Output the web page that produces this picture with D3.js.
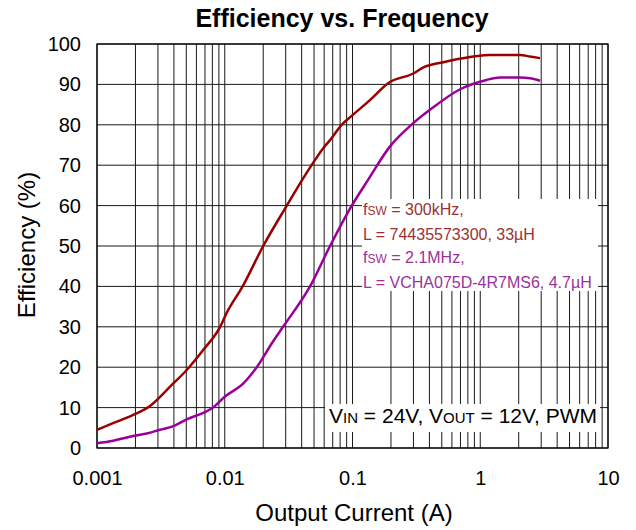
<!DOCTYPE html>
<html><head><meta charset="utf-8">
<script src="https://cdn.jsdelivr.net/npm/d3@7"></script>
<style>body{margin:0;background:#fff;font-family:"Liberation Sans",Arial,sans-serif}</style>
</head><body>
<svg id="c" width="636" height="530"></svg>
<script>
const xTicks = [0.001, 0.01, 0.1, 1, 10];
const xTickLabels = ["0.001", "0.01", "0.1", "1", "10"];
const yTicks = [0,10,20,30,40,50,60,70,80,90,100];
const redX = [0.001,0.00135,0.00187,0.0026,0.00385,0.00504,0.0068,0.0092,0.0103,0.0138,0.02,0.0306,0.0412,0.049,0.059,0.0667,0.0822,0.1,0.137,0.19,0.299,0.359,0.514,0.654,0.883,1.19,2.05,2.45,2.94];
const redY = [4.5,6.2,8.0,10.4,15.6,19.3,24.3,30.0,33.3,40.0,50.0,60.0,66.8,70.5,74.2,76.2,80.0,82.4,86.1,90.3,92.7,94.2,95.5,96.2,96.9,97.3,97.3,96.9,96.5];
const purX = [0.001,0.00134,0.00181,0.00245,0.00311,0.00396,0.00504,0.0068,0.0081,0.01,0.014,0.0178,0.024,0.0286,0.0465,0.0667,0.0987,0.132,0.196,0.299,0.404,0.695,1.12,1.43,2.05,2.45,2.94];
const purY = [1.2,1.8,2.8,3.6,4.5,5.4,7.1,8.7,10.0,12.7,16.0,20.0,26.5,30.0,40.0,50.0,60.0,66.3,74.6,80.4,83.7,88.8,91.1,91.7,91.7,91.5,90.9];

const svg = d3.select("#c");
const L=97, R=608, T=44, B=448;
const x = d3.scaleLog().domain([0.001,10]).range([L,R]);
const y = d3.scaleLinear().domain([0,100]).range([B,T]);
const FF = "Liberation Sans, Arial, sans-serif";

// grid
const minor = [];
for (let e=-3; e<1; e++) for (let m=1; m<10; m++) minor.push(m*Math.pow(10,e));
minor.push(10);
svg.append("g").selectAll("line").data(minor).join("line")
  .attr("x1",d=>x(d)).attr("x2",d=>x(d)).attr("y1",T).attr("y2",B)
  .attr("stroke","#1a1a1a").attr("stroke-width",1);
svg.append("g").selectAll("line").data(yTicks).join("line")
  .attr("x1",L).attr("x2",R).attr("y1",d=>y(d)).attr("y2",d=>y(d))
  .attr("stroke","#1a1a1a").attr("stroke-width",1);
svg.append("rect").attr("x",L).attr("y",T).attr("width",R-L).attr("height",B-T)
  .attr("fill","none").attr("stroke","#000").attr("stroke-width",1.2);

// axes labels
const xa = svg.append("g").attr("transform",`translate(0,${B})`)
  .call(d3.axisBottom(x).tickValues(xTicks).tickFormat((d,i)=>xTickLabels[i]).tickSize(0).tickPadding(23));
xa.select(".domain").remove();
xa.selectAll("text").attr("font-size",20).attr("font-family",FF).attr("fill","#000");
const ya = svg.append("g").attr("transform",`translate(${L},0)`)
  .call(d3.axisLeft(y).tickValues(yTicks).tickSize(0).tickPadding(16));
ya.select(".domain").remove();
ya.selectAll("text").attr("font-size",20).attr("font-family",FF).attr("fill","#000");

// curves
const line = d3.line().x(d=>x(d[0])).y(d=>y(d[1])).curve(d3.curveMonotoneX);
svg.append("path").datum(redX.map((v,i)=>[v,redY[i]])).attr("d",line)
  .attr("fill","none").attr("stroke","#990000").attr("stroke-width",2.5);
svg.append("path").datum(purX.map((v,i)=>[v,purY[i]])).attr("d",line)
  .attr("fill","none").attr("stroke","#990099").attr("stroke-width",2.5);

// annotation box
svg.append("rect").attr("x",362).attr("y",199).attr("width",236).attr("height",92).attr("fill","#fff");
const ann = [
  {c:"#993333", parts:[["f",16],["SW",12],[" = 300kHz,",16]], yb:215},
  {c:"#993333", parts:[["L =  74435573300, 33µH",16]], yb:240},
  {c:"#993399", parts:[["f",16],["SW",12],[" = 2.1MHz,",16]], yb:263},
  {c:"#993399", parts:[["L = VCHA075D-4R7MS6, 4.7µH",16]], yb:288}
];
ann.forEach(a=>{
  const t = svg.append("text").attr("x",363).attr("y",a.yb).attr("fill",a.c).attr("font-family",FF);
  a.parts.forEach(p=>t.append("tspan").attr("font-size",p[1]).text(p[0]));
});

// VIN box
svg.append("rect").attr("x",325).attr("y",404).attr("width",275).attr("height",28).attr("fill","#fff");
const vt = svg.append("text").attr("x",329).attr("y",423).attr("fill","#000").attr("font-family",FF);
[["V",21],["IN",15],[" = 24V, V",21],["OUT",15],[" = 12V, PWM",21]].forEach(p=>vt.append("tspan").attr("font-size",p[1]).text(p[0]));

// titles
svg.append("text").attr("x",342).attr("y",27).attr("text-anchor","middle")
  .attr("font-size",25).attr("font-weight","bold").attr("font-family",FF).text("Efficiency vs. Frequency");
svg.append("text").attr("x",354).attr("y",521).attr("text-anchor","middle")
  .attr("font-size",24).attr("font-family",FF).text("Output Current (A)");
svg.append("text").attr("transform","translate(35,245) rotate(-90)").attr("text-anchor","middle")
  .attr("font-size",24).attr("font-family",FF).text("Efficiency (%)");
</script>
</body></html>
